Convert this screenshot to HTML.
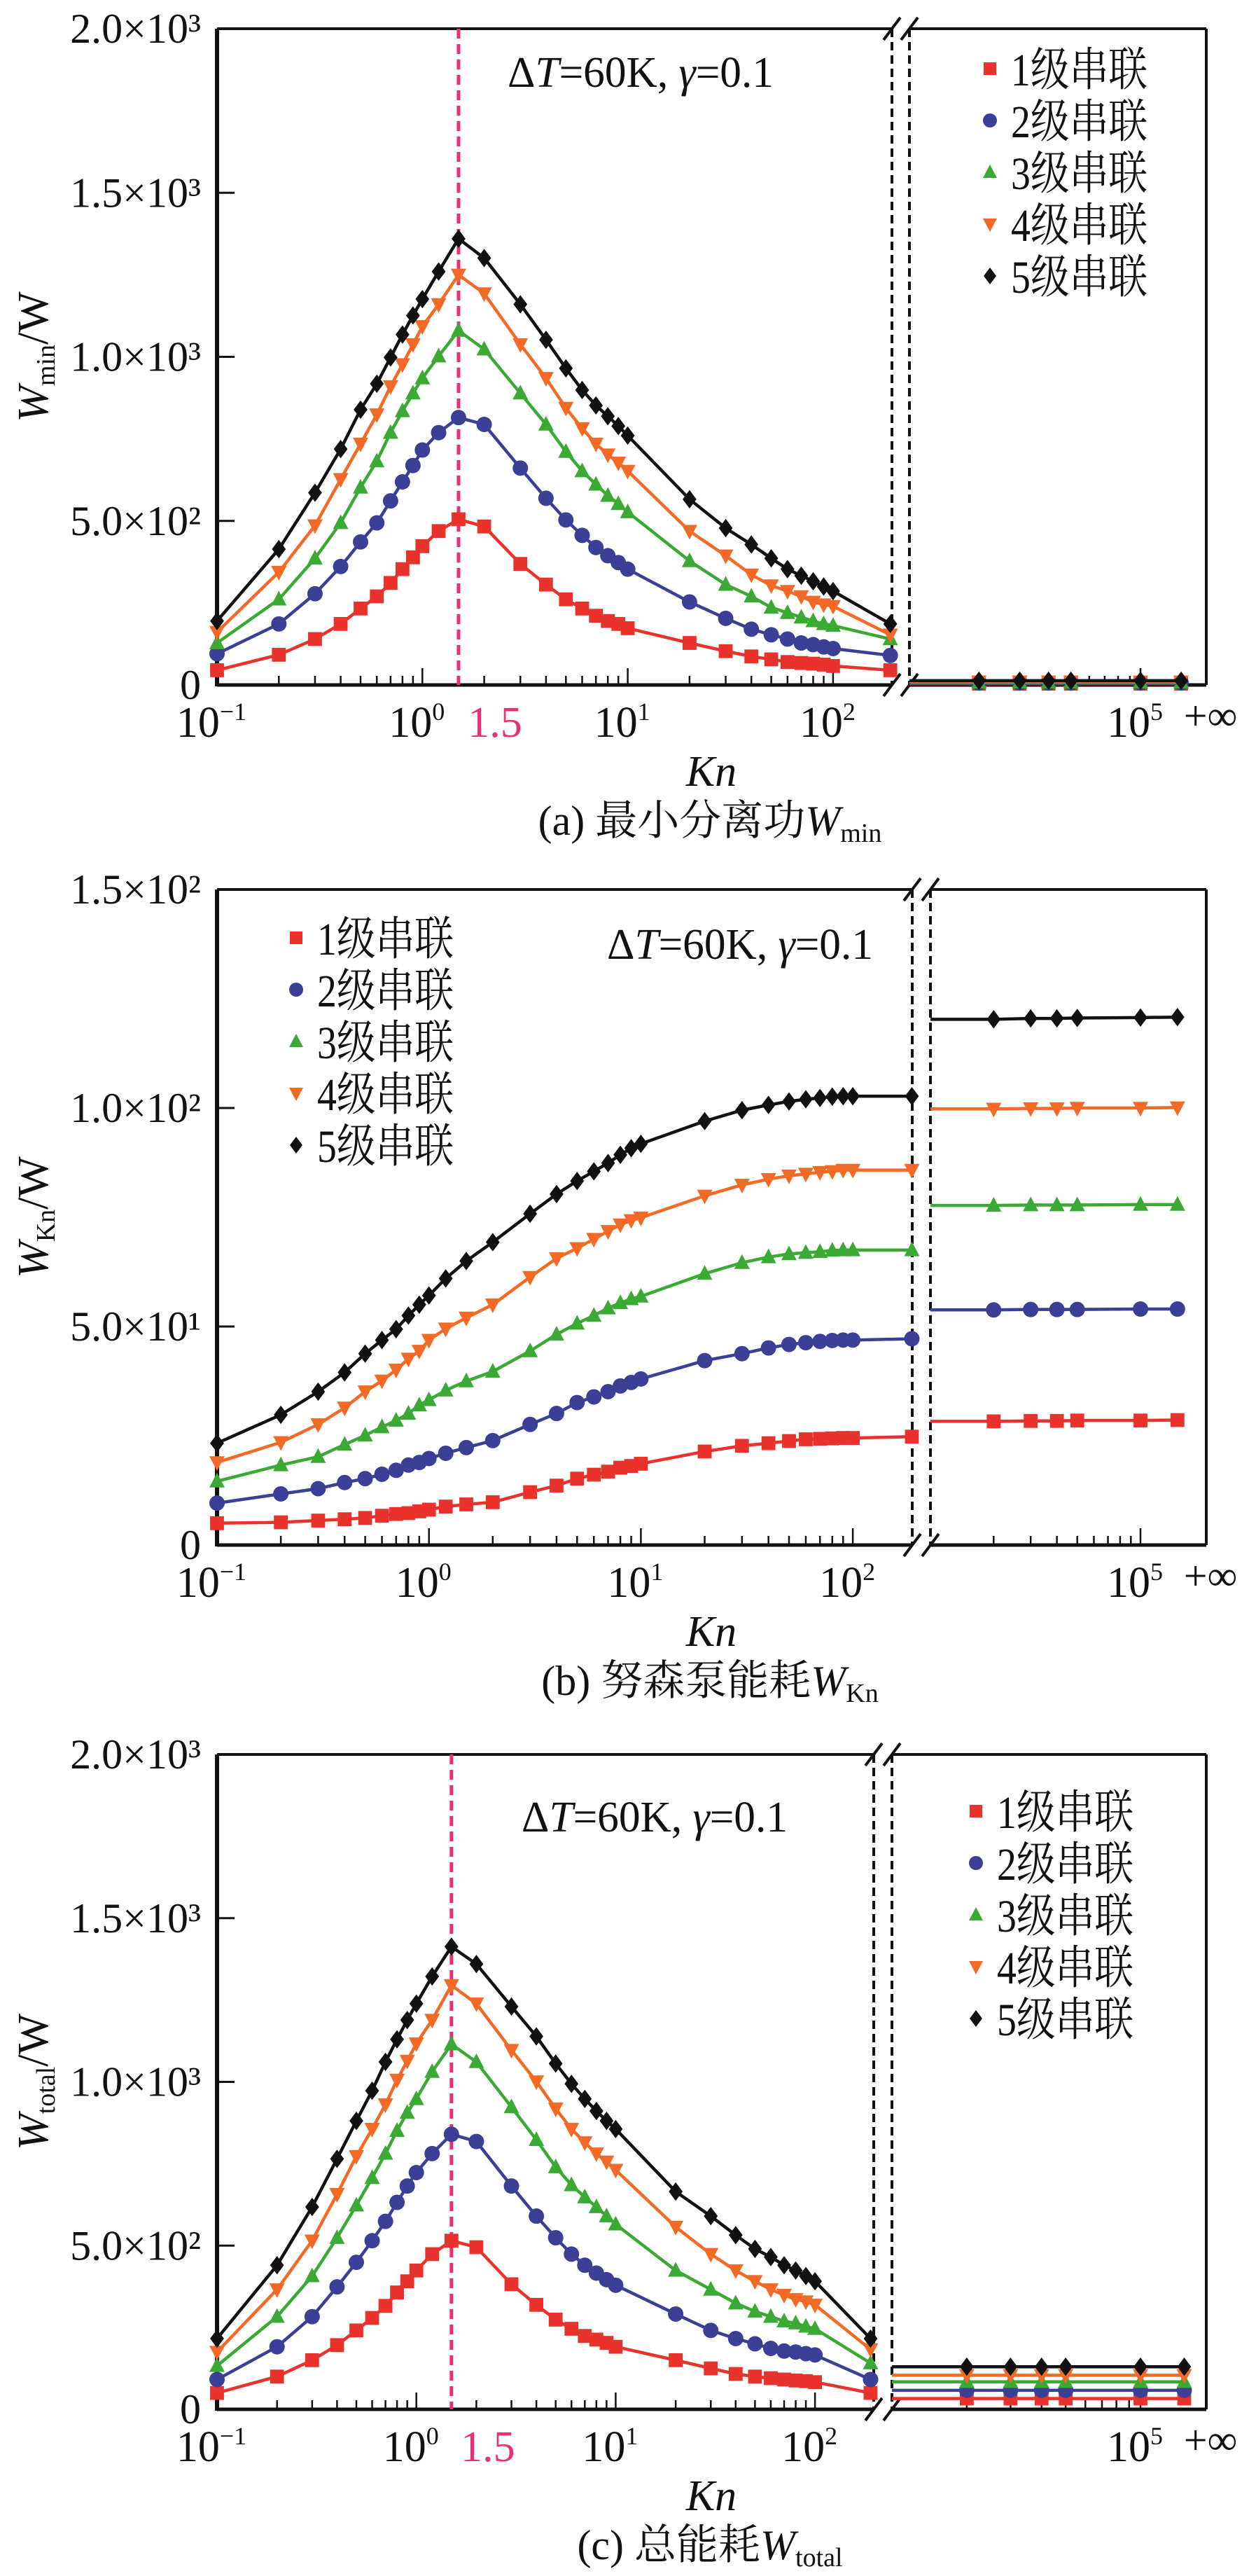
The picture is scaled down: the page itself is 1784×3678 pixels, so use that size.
<!DOCTYPE html>
<html><head><meta charset="utf-8"><style>
html,body{margin:0;padding:0;background:#fff;}
svg{display:block;font-family:"Liberation Serif","Noto Serif CJK SC",serif;}
svg text{font-family:"Liberation Serif","Noto Serif CJK SC",serif;fill:#111;}
</style></head><body>
<svg id="fig" xmlns="http://www.w3.org/2000/svg" width="1784" height="3678" viewBox="0 0 1784 3678" font-family="Liberation Serif, Noto Serif CJK SC, serif"></svg>
<script>
const knLeft = [0.1,0.2,0.3,0.4,0.5,0.6,0.7,0.8,0.9,1,1.2,1.5,2,3,4,5,6,7,8,9,10,20,30,40,50,60,70,80,90,100,190];
const knRight = [2e4,3e4,4e4,5e4,1e5,1.5e5];
const seriesNames = ["1级串联","2级串联","3级串联","4级串联","5级串联"];
const colors = ["#e8322b","#3b3f96","#3aaa35","#f26a25","#111111"];
const shapes = ["square","circle","triangle","triangleDown","diamond"];

// Panel (a) W_min
const aS1 = [45,92,140,186,233,270,311,353,389,423,469,505,483,369,306,261,233,211,195,186,173,128,103,87,78,70,67,65,62,58,45];
const aS2 = [95,186,278,361,436,494,561,619,669,716,769,815,794,661,569,503,456,419,394,373,353,253,203,170,153,140,128,123,116,111,90];
const aS3 = [128,261,386,494,602,682,769,835,889,935,1002,1080,1023,889,794,711,652,611,577,552,527,378,306,270,236,220,206,195,186,181,140];
const aS4 = [161,344,486,627,735,824,910,977,1038,1093,1160,1250,1193,1038,935,844,782,735,702,677,652,469,394,336,303,286,270,253,245,240,153];
const aS5 = [195,414,586,719,839,918,998,1068,1126,1176,1260,1360,1301,1160,1052,965,899,852,819,789,760,566,478,428,386,353,333,316,300,286,186];
const aR1 = [4,4,4,4,4,4];
const aR2 = [6,6,6,6,6,6];
const aR3 = [8,8,8,8,8,8];
const aR4 = [10,10,10,10,10,10];
const aR5 = [13,13,13,13,13,13];

// Panel (b) W_Kn
const bS1 = [5.0,5.2,5.6,5.9,6.2,6.7,7.1,7.3,7.7,8.1,8.8,9.3,9.8,12.1,13.6,15.2,16.1,16.8,17.7,18.1,18.6,21.4,22.7,23.3,23.8,24.2,24.3,24.4,24.5,24.5,24.8];
const bS2 = [9.6,11.7,12.9,14.3,15.2,16.2,17.1,18.3,18.9,19.8,21.0,22.3,23.9,27.6,30.1,32.6,33.9,35.1,36.4,37.2,38.0,42.2,43.8,45.1,45.9,46.3,46.6,46.8,46.9,46.9,47.2];
const bS3 = [14.6,18.3,20.2,23.0,25.1,27.0,28.5,30.1,32.0,33.2,35.4,37.5,39.7,44.4,48.2,50.7,52.5,54.2,55.4,56.3,56.9,62.1,64.6,65.9,66.6,66.9,67.1,67.4,67.5,67.5,67.5];
const bS4 = [18.9,23.5,27.6,31.4,35.1,37.6,40.1,42.6,44.4,46.9,49.5,52.0,55.0,61.3,65.6,67.9,70.0,71.8,73.3,74.3,74.9,79.9,82.4,83.7,84.5,84.9,85.3,85.5,85.8,85.8,85.8];
const bS5 = [23.3,29.8,35.1,39.5,43.8,46.9,49.4,52.5,55.0,57.1,61.0,65.0,69.3,75.8,80.3,83.3,85.5,87.4,89.3,90.8,91.8,97.0,99.5,100.7,101.5,102.0,102.3,102.6,102.7,102.7,102.7];
const bR1 = [28.3,28.4,28.4,28.5,28.5,28.6];
const bR2 = [53.8,53.9,53.9,53.9,54.0,54.0];
const bR3 = [77.7,77.8,77.8,77.8,77.9,77.9];
const bR4 = [99.8,99.9,99.9,100.0,100.0,100.1];
const bR5 = [120.3,120.5,120.5,120.6,120.7,120.8];

// Panel (c) W_total
const cS1 = [50,100,150,196,241,279,316,357,391,424,474,515,495,382,319,274,246,224,213,203,191,150,125,108,100,95,91,88,86,83,50];
const cS2 = [91,191,283,374,449,515,574,632,682,723,781,840,818,682,590,524,474,440,416,396,379,291,241,216,200,186,178,175,170,166,91];
const cS3 = [133,283,407,524,623,707,781,851,906,948,1031,1115,1061,923,823,740,685,648,618,590,565,424,366,324,299,283,269,263,253,246,141];
const cS4 = [175,366,515,657,773,856,931,1006,1064,1117,1189,1295,1239,1097,1001,918,856,815,781,756,731,557,474,424,391,366,349,336,329,319,183];
const cS5 = [216,440,618,765,881,973,1061,1130,1189,1239,1322,1413,1360,1230,1139,1056,994,948,911,881,856,665,590,532,490,465,440,424,407,391,216];
const cR1 = [33,33,33,33,33,33];
const cR2 = [58,58,58,58,58,58];
const cR3 = [84,84,84,84,84,84];
const cR4 = [104,104,104,104,104,104];
const cR5 = [130,130,130,130,130,130];

const yTicksA = ["0","5.0×10²","1.0×10³","1.5×10³","2.0×10³"];
const yTicksB = ["0","5.0×10¹","1.0×10²","1.5×10²"];
const yTickValsA = [0,500,1000,1500,2000];
const yTickValsB = [0,50,100,150];

const NS="http://www.w3.org/2000/svg";
const svg=document.getElementById('fig');
const FF="'Liberation Serif','Noto Serif CJK SC',serif";
function mk(tag,attrs,parent){const e=document.createElementNS(NS,tag);for(const k in attrs)e.setAttribute(k,attrs[k]);if(tag==='text')e.setAttribute('font-family',FF);(parent||svg).appendChild(e);return e;}

function marker(g,shape,x,y,c,s){
  let e;
  if(shape==="square") e=mk('rect',{x:x-s*0.45,y:y-s*0.45,width:s*0.9,height:s*0.9,fill:c},g);
  else if(shape==="circle") e=mk('circle',{cx:x,cy:y,r:s*0.5,fill:c},g);
  else if(shape==="triangle") e=mk('polygon',{points:`${x},${y-s*0.55} ${x-s*0.5},${y+s*0.4} ${x+s*0.5},${y+s*0.4}`,fill:c},g);
  else if(shape==="triangleDown") e=mk('polygon',{points:`${x},${y+s*0.55} ${x-s*0.5},${y-s*0.4} ${x+s*0.5},${y-s*0.4}`,fill:c},g);
  else e=mk('polygon',{points:`${x},${y-s*0.6} ${x+s*0.45},${y} ${x},${y+s*0.6} ${x-s*0.45},${y}`,fill:c},g);
  return e;
}

function panel(cfg){
  const g=mk('g',{});
  
  
  const L=310,R=1723,T=cfg.top,B=cfg.bottom;
  const xl=v=>L+(Math.log10(v)+1)*cfg.decade;
  const xr=v=>cfg.brR+(Math.log10(v)-4)*(1629-cfg.brR);
  const y=v=>B-(v/cfg.ymax)*(B-T);
  const fr=mk('g',{},g);
  
  
  mk('line',{x1:L,y1:T,x2:L,y2:B+2,stroke:'#111','stroke-width':6},fr);
  mk('line',{x1:L,y1:B,x2:cfg.brL,y2:B,stroke:'#111','stroke-width':5},fr);
  mk('line',{x1:cfg.brR,y1:B,x2:R,y2:B,stroke:'#111','stroke-width':5},fr);
  mk('line',{x1:L,y1:T,x2:cfg.brL,y2:T,stroke:'#111','stroke-width':4},fr);
  mk('line',{x1:cfg.brR,y1:T,x2:R,y2:T,stroke:'#111','stroke-width':4},fr);
  mk('line',{x1:R,y1:T,x2:R,y2:B,stroke:'#111','stroke-width':4},fr);
  [cfg.brL,cfg.brR].forEach(xx=>mk('line',{x1:xx,y1:T,x2:xx,y2:B,stroke:'#111','stroke-width':4,'stroke-dasharray':'12,7'},fr));
  [T,B].forEach(yy=>{[cfg.brL,cfg.brR].forEach(xx=>mk('line',{x1:xx-12,y1:yy+16,x2:xx+12,y2:yy-16,stroke:'#111','stroke-width':4},fr));});
  cfg.yvals.forEach((v,i)=>{
    if(v>0&&v<cfg.ymax) mk('line',{x1:L,y1:y(v),x2:L+25,y2:y(v),stroke:'#111','stroke-width':3},g);
    const t=mk('text',{x:287,y:y(v)+20,'text-anchor':'end','font-size':60},g);
    
    
    t.textContent=cfg.ylabels[i];
  });
  for(let d=-1;d<=2;d++){for(let m=1;m<=9;m++){const v=m*Math.pow(10,d);const xx=xl(v);if(xx>cfg.brL-2)continue;
    mk('line',{x1:xx,y1:B,x2:xx,y2:B-(m===1?24:13),stroke:'#111','stroke-width':2.5},g);}}
  for(let m=2;m<=10;m++){const xx=xr(m*1e4);mk('line',{x1:xx,y1:B,x2:xx,y2:B-(m===10?24:13),stroke:'#111','stroke-width':2.5},g);}
  const xlab=[["10","−1",xl(0.1)],["10","0",xl(1)],["10","1",xl(10)],["10","2",xl(100)],["10","5",xr(1e5)]];
  xlab.forEach(a=>{const t=mk('text',{x:a[2]-8,y:B+74,'text-anchor':'middle','font-size':62},g);
    
    
    t.innerHTML=a[0]+'<tspan dy="-24" font-size="36">'+a[1]+'</tspan>';});
  const inf=mk('text',{x:1729,y:B+64,'text-anchor':'middle','font-size':60},g);
  
  
  inf.textContent='+∞';
  if(cfg.pink){
    const px=xl(1.5);
    const pl=mk('line',{x1:px,y1:T,x2:px,y2:B,stroke:'#e8307a','stroke-width':5,'stroke-dasharray':'14,8'},g);
    
    
    const pt=mk('text',{x:px+52,y:B+74,'text-anchor':'middle','font-size':62},g);
    
    
    pt.setAttribute('style','fill:#e8307a');
    pt.textContent='1.5';
  }
  cfg.left.forEach((arr,si)=>{
    const sg=mk('g',{},g);
    
    
    const pts=knLeft.map((k,i)=>xl(k)+','+y(arr[i])).join(' ');
    mk('polyline',{points:pts,fill:'none',stroke:colors[si],'stroke-width':4.5},sg);
    knLeft.forEach((k,i)=>{const m=marker(sg,shapes[si],xl(k),y(arr[i]),colors[si],22);
      
      });
    const r=cfg.right[si];
    const pts2=[cfg.brR+','+y(r[0])].concat(knRight.map((k,i)=>xr(k)+','+y(r[i]))).join(' ');
    mk('polyline',{points:pts2,fill:'none',stroke:colors[si],'stroke-width':4.5},sg);
    knRight.forEach((k,i)=>{const m=marker(sg,shapes[si],xr(k),y(r[i]),colors[si],22);
      
      });
  });
  const lg=mk('g',{},g);
  
  
  seriesNames.forEach((n,i)=>{
    const yy=cfg.legY+i*cfg.legDy;
    marker(lg,shapes[i],cfg.legX,yy,colors[i],20);
    const t=mk('text',{x:cfg.legX+30,y:yy+24,'font-size':66,textLength:195,lengthAdjust:'spacingAndGlyphs'},lg);
    
    
    t.textContent=n;
  });
  const an=mk('text',{x:cfg.annX,y:cfg.annY+22,'font-size':62,textLength:380,lengthAdjust:'spacingAndGlyphs'},g);
  
  
  an.innerHTML='Δ<tspan font-style="italic">T</tspan>=60K, <tspan font-style="italic">γ</tspan>=0.1';
  const yt=mk('text',{x:0,y:0,'font-size':62,'text-anchor':'middle',transform:`translate(68,${(T+B)/2}) rotate(-90)`},g);
  
  
  yt.innerHTML='<tspan font-style="italic">W</tspan><tspan font-size="38" dy="10">'+cfg.sub+'</tspan><tspan dy="-10">/W</tspan>';
  const xt=mk('text',{x:1016,y:B+144,'font-size':62,'text-anchor':'middle','font-style':'italic'},g);
  
  
  xt.textContent='Kn';
  const cp=mk('text',{x:1014,y:B+214,'font-size':60,'text-anchor':'middle'},g);
  
  
  cp.innerHTML=cfg.cap+'<tspan font-style="italic">W</tspan><tspan font-size="38" dy="10">'+cfg.sub+'</tspan>';
}

panel({name:'panel-a-wmin',top:41,bottom:978,decade:293.3,brL:1274,brR:1299,ymax:2000,yvals:yTickValsA,ylabels:yTicksA,
  left:[aS1,aS2,aS3,aS4,aS5],right:[aR1,aR2,aR3,aR4,aR5],pink:true,legX:1414,legY:98,legDy:74,annX:725,annY:102,sub:'min',cap:'(a) 最小分离功'});
panel({name:'panel-b-wkn',top:1270,bottom:2206,decade:302.7,brL:1303,brR:1329,ymax:150,yvals:yTickValsB,ylabels:yTicksB,
  left:[bS1,bS2,bS3,bS4,bS5],right:[bR1,bR2,bR3,bR4,bR5],pink:false,legX:423,legY:1339,legDy:74,annX:867,annY:1347,sub:'Kn',cap:'(b) 努森泵能耗'});
panel({name:'panel-c-wtotal',top:2505,bottom:3440,decade:284.7,brL:1248,brR:1274,ymax:2000,yvals:yTickValsA,ylabels:yTicksA,
  left:[cS1,cS2,cS3,cS4,cS5],right:[cR1,cR2,cR3,cR4,cR5],pink:true,legX:1394,legY:2586,legDy:74,annX:745,annY:2593,sub:'total',cap:'(c) 总能耗'});
</script>
</body></html>
